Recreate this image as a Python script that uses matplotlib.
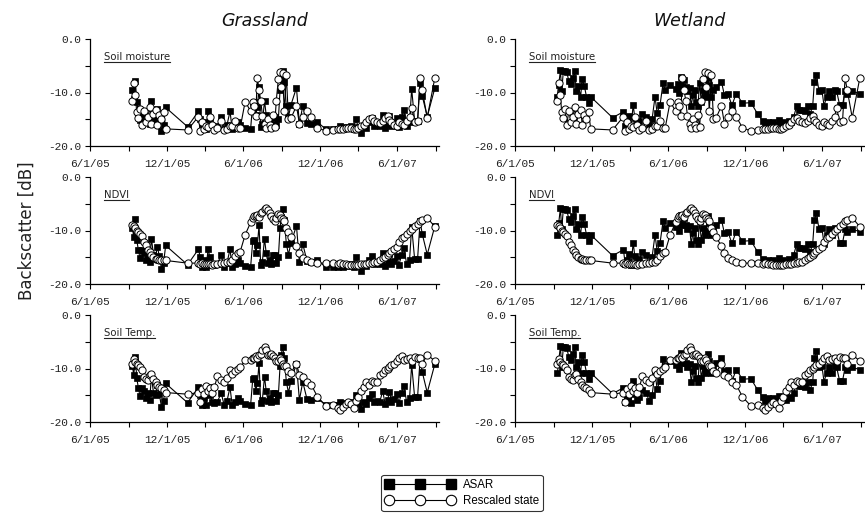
import datetime as dt
import matplotlib
matplotlib.use('Agg')
from matplotlib import pyplot as plt
from matplotlib import dates as mdates
from matplotlib.lines import Line2D
from matplotlib.ticker import MultipleLocator, FuncFormatter

plt.rcParams['font.family'] = 'Liberation Mono'
plt.rcParams['axes.unicode_minus'] = False

start = dt.date(2005, 6, 1)

# acquisition days, counted from 6/1/05
days = [101, 104, 108, 111, 115, 119, 123, 128, 134, 138, 142, 146, 151, 156, 160, 165, 170, 175, 180,
        232,
        258, 262, 266, 271, 276, 281, 285, 291, 296, 303, 312, 319, 326, 333, 338, 345, 352, 357,
        369, 382, 387, 391, 394, 398, 402, 406, 410, 415, 419, 423, 427, 431, 435, 439, 443, 448,
        452, 455, 458, 462, 467, 472,
        478, 491, 498, 506, 516, 526, 541, 561, 577,
        589, 595, 602, 608, 614, 621, 627, 632, 638, 644, 651, 657, 663, 670, 676, 682, 689, 696,
        702, 708,
        712, 717, 723, 730, 735, 741, 747, 753, 760, 765, 772, 779, 785, 790, 802, 820]

grass_asar = [-9.5, -11.3, -7.8, -11.7, -13.6, -15.2, -13.7, -14.2, -15.5, -14.6, -15.8, -11.5, -14.5,
              -14.9, -13.0, -14.8, -17.2, -16.0, -12.8,
              -16.4,
              -13.5, -15.0, -16.8, -15.5, -16.8, -13.5, -15.0, -16.2, -16.5, -16.2, -14.6, -16.8, -16.0,
              -13.5, -16.8, -16.3, -15.5, -16.0,
              -16.6, -16.8, -12.0, -11.7, -14.2, -12.8, -9.0, -16.5, -15.8, -11.5, -14.2, -16.0, -15.5,
              -16.3, -14.5, -14.6, -16.0, -15.0, -9.5, -7.4, -5.9, -8.0, -12.5, -14.5,
              -12.3, -9.1, -15.9, -12.5, -15.7, -15.8, -15.5, -16.9, -16.8,
              -16.8, -16.3, -16.9, -16.4, -16.6, -16.3, -16.9, -15.0, -16.4, -17.5, -16.2, -16.6, -15.5,
              -14.7, -16.3, -16.0, -16.3, -14.2, -16.6, -15.9,
              -14.3, -16.2, -15.7, -14.8, -16.4, -14.5, -13.3, -16.3, -15.5, -9.3, -15.3, -15.4, -8.2,
              -10.6, -14.5, -9.2]

wet_asar = [-10.8, -8.6, -5.8, -9.8, -6.0, -5.9, -6.2, -7.8, -8.5, -7.3, -6.0, -9.8, -8.8, -10.8, -7.5,
            -8.8, -10.8, -12.0, -10.8,
            -14.7,
            -13.6, -16.3, -15.6, -14.3, -16.5, -12.3, -14.8, -15.8, -15.3, -14.0, -14.6, -16.0, -15.0,
            -10.8, -13.8, -12.3, -8.3, -9.5,
            -8.6, -9.4, -8.5, -10.0, -7.1, -9.0, -7.6, -9.0, -9.8, -9.2, -12.5, -10.5, -9.6, -11.7,
            -12.5, -8.3, -11.7, -9.5, -10.8, -10.0, -7.2, -8.6, -10.9, -9.6,
            -9.0, -8.0, -10.5, -10.2, -12.4, -10.2, -12.0, -11.9, -14.0,
            -15.3, -16.0, -15.5, -16.2, -15.6, -16.0, -15.2, -15.8, -15.5, -15.9, -15.3, -15.6, -14.5,
            -12.5, -13.3, -13.2, -13.5, -12.5, -14.0, -12.5,
            -8.0, -6.7, -9.8, -9.6, -12.5, -10.8, -9.8, -10.8, -9.6, -9.8, -12.3, -12.3, -9.8, -10.2,
            -9.8, -10.2]

sm_state = [-11.5, -8.2, -10.5, -13.7, -14.8, -13.0, -16.1, -13.5, -15.5, -14.5, -12.8, -15.8, -14.0,
            -13.2, -16.0, -14.2, -15.0, -13.6, -16.8,
            -17.0,
            -14.5, -17.2, -15.5, -16.8, -16.3, -16.5, -14.6, -16.0, -17.0, -16.6, -15.3, -17.0, -16.9,
            -16.2, -16.3, -15.3, -16.7, -16.7,
            -11.7, -13.5, -11.7, -12.5, -14.3, -7.3, -9.5, -11.5, -14.3, -15.8, -16.7, -15.0, -16.1,
            -16.7, -14.2, -16.5, -11.5, -7.5, -6.1, -9.0, -6.3, -13.5, -6.8, -15.0,
            -14.8, -12.5, -15.8, -14.5, -13.5, -14.5, -16.6, -17.2, -17.0,
            -16.9, -16.9, -16.8, -16.7, -16.6, -16.7, -16.9, -16.8, -16.6, -16.3, -16.0, -15.5, -15.0,
            -14.8, -15.3, -15.5, -15.7, -15.3, -14.8, -14.4,
            -15.2, -15.6, -16.0, -16.2, -15.5, -15.8, -16.0, -15.3, -14.5, -12.9, -15.5, -15.3, -7.3,
            -9.5, -14.7, -7.3]

ndvi_state = [-8.9, -9.2, -9.6, -10.0, -10.2, -10.7, -11.1, -12.2, -12.8, -13.6, -14.0, -14.6, -15.0,
              -15.3, -15.4, -15.5, -15.6, -15.6, -15.6,
              -16.1,
              -16.1, -16.3, -16.1, -16.3, -16.2, -16.3, -16.2, -16.4, -16.3, -16.2, -16.0, -16.1, -15.9,
              -15.8, -15.5, -14.8, -14.2, -14.0,
              -10.8, -8.5, -7.6, -7.3, -7.2, -7.1, -7.4, -6.7, -6.5, -5.9, -5.8, -6.2, -6.7, -7.2, -7.9,
              -8.2, -7.7, -7.0, -7.1, -7.6, -7.9, -8.2, -9.5, -10.2,
              -11.2, -12.9, -14.2, -15.2, -15.6, -15.8, -16.1, -16.1, -16.0,
              -16.2, -16.1, -16.3, -16.2, -16.4, -16.5, -16.4, -16.5, -16.4, -16.3, -16.3, -16.2, -16.1,
              -16.0, -15.8, -15.9, -15.6, -15.2, -15.0, -14.6,
              -14.2, -13.9, -13.5, -13.0, -12.2, -11.4, -11.2, -10.6, -10.0, -9.7, -9.2, -8.8, -8.3,
              -8.0, -7.6, -9.3]

temp_state = [-9.2, -8.3, -8.8, -9.1, -9.3, -9.8, -10.2, -11.5, -12.0, -12.2, -11.3, -11.1, -12.0,
              -12.5, -13.0, -13.5, -13.7, -14.0, -14.5,
              -14.8,
              -14.5, -16.2, -13.8, -14.8, -13.3, -14.2, -13.6, -14.5, -13.5, -11.4, -12.2, -12.5, -11.8,
              -10.2, -11.0, -10.5, -10.0, -9.8,
              -8.5, -8.5, -8.0, -8.0, -7.7, -8.1, -7.4, -7.2, -6.6, -6.0, -6.6, -7.4, -7.4, -7.2, -7.7,
              -8.0, -8.6, -8.6, -8.0, -8.5, -9.2, -9.5, -9.5, -10.5,
              -10.8, -9.1, -11.2, -11.6, -12.6, -13.0, -15.3, -17.0, -16.9,
              -17.3, -17.8, -17.2, -16.6, -16.2, -16.7, -17.3, -16.1, -15.3, -14.2, -13.5, -12.5, -13.0,
              -12.3, -12.6, -12.5, -11.3, -10.9, -10.3, -10.0,
              -9.8, -9.3, -9.1, -8.6, -8.0, -7.7, -8.5, -8.3, -8.0, -8.6, -7.8, -8.0, -8.0, -9.2, -7.4,
              -8.6]

sites = ['Grassland', 'Wetland']
variables = ['Soil moisture', 'NDVI', 'Soil Temp.']

dates = [start + dt.timedelta(days=d) for d in days]
asar_by_site = [grass_asar, wet_asar]
state_by_var = [sm_state, ndvi_state, temp_state]


def date_label(x, pos):
    d = mdates.num2date(x)
    return f'{d.month}/{d.day}/{d.year % 100:02d}'


def draw_panel(ax, asar, state):
    ax.plot(dates, asar, color='black', lw=0.8, marker='s', ms=4.4,
            mfc='black', mec='black', mew=0.5)
    ax.plot(dates, state, color='black', lw=0.8, marker='o', ms=5.2,
            mfc='white', mec='black', mew=0.7)
    ax.set_xlim(dt.date(2005, 6, 1), dt.date(2007, 9, 9))
    ax.set_ylim(-20, 0)
    ax.yaxis.set_major_locator(MultipleLocator(10))
    ax.yaxis.set_minor_locator(MultipleLocator(5))
    ax.yaxis.set_major_formatter(FuncFormatter(lambda v, p: f'{v:.1f}'))
    ax.xaxis.set_major_locator(mdates.MonthLocator(bymonth=[6, 12]))
    ax.xaxis.set_minor_locator(mdates.MonthLocator(bymonth=[3, 9]))
    ax.xaxis.set_major_formatter(FuncFormatter(date_label))
    for s in ['top', 'right']:
        ax.spines[s].set_visible(False)
    for s in ['left', 'bottom']:
        ax.spines[s].set_linewidth(0.9)
    ax.tick_params(which='both', direction='out', length=3.5, width=0.8,
                   labelsize=8, labelcolor='#222222', pad=3)
    ax.tick_params(axis='x', pad=6)


fig = plt.figure(figsize=(8.65, 5.17), dpi=100)

lefts = [90 / 865, 515 / 865]
bottoms = [1 - 146 / 517, 1 - 284 / 517, 1 - 422 / 517]
labels = []
for col, site in enumerate(sites):
    for row, var in enumerate(variables):
        ax = fig.add_axes([lefts[col], bottoms[row], 349 / 865, 107 / 517])
        draw_panel(ax, asar_by_site[col], state_by_var[row])
        t = ax.text(0.04, 0.875, var, transform=ax.transAxes, ha='left', va='top',
                    fontsize=7.3, family='DejaVu Sans', color='#222222')
        labels.append(t)
    fig.text(lefts[col] + 349 / 865 / 2, 1 - 21 / 517, site, ha='center', va='center',
             fontsize=12.5, style='italic', family='DejaVu Sans', color='#111111')

fig.text(0.031, 1 - 231 / 517, 'Backscatter [dB]', rotation=90, ha='center', va='center',
         fontsize=12, family='DejaVu Sans', color='#222222')

# underline the panel labels
renderer = fig.canvas.get_renderer()
inv = fig.transFigure.inverted()
for t in labels:
    bb = t.get_window_extent(renderer=renderer)
    (x0, y0), (x1, y1) = inv.transform([(bb.x0, bb.y0), (bb.x1, bb.y1)])
    fig.add_artist(Line2D([x0, x1], [y0 + 0.001, y0 + 0.001], transform=fig.transFigure,
                          color='#222222', lw=0.8))

handles = [
    Line2D([], [], color='black', lw=0.8, marker='s', ms=7, mfc='black', mec='black'),
    Line2D([], [], color='black', lw=0.8, marker='o', ms=7.5, mfc='white', mec='black', mew=0.8),
]
leg = fig.legend(handles, ['ASAR', 'Rescaled state'], loc='upper center',
                 bbox_to_anchor=(462 / 865, 1 - 469 / 517), numpoints=3, handlelength=6.0,
                 handletextpad=0.7, borderpad=0.35, labelspacing=0.35, fancybox=True,
                 prop={'family': 'Liberation Sans', 'size': 8.3})
leg.get_frame().set_edgecolor('black')
leg.get_frame().set_linewidth(0.8)

fig.savefig('out.png', dpi=100)
